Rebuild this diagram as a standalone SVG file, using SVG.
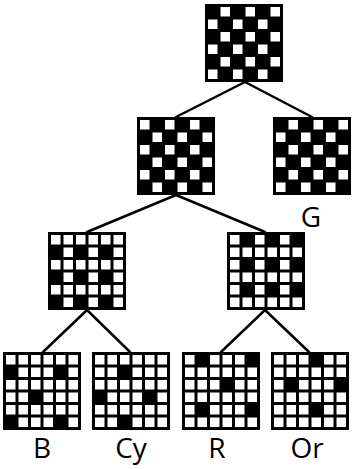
<svg xmlns="http://www.w3.org/2000/svg" xmlns:xlink="http://www.w3.org/1999/xlink" width="355" height="469" viewBox="0 0 355 469">
<style>
.bg{fill:#000}
.w{fill:#fff}
.lbl{font-family:"Open Sans","Noto Sans",sans-serif;font-size:28px;fill:#000;text-anchor:middle}
.conn line{stroke:#000;stroke-width:2.5;stroke-linecap:round}
</style>
<defs>
<g id="ra" class="w"><rect x="3" y="3" width="9.5" height="9.5"/><rect x="15.5" y="3" width="9.5" height="9.5"/><rect x="28" y="3" width="9.5" height="9.5"/><rect x="40.5" y="3" width="9.5" height="9.5"/><rect x="53" y="3" width="9.5" height="9.5"/><rect x="65.5" y="3" width="9.5" height="9.5"/></g>
<g id="ro" class="w"><rect x="15.5" y="3" width="9.5" height="9.5"/><rect x="40.5" y="3" width="9.5" height="9.5"/><rect x="65.5" y="3" width="9.5" height="9.5"/></g>
<g id="re" class="w"><rect x="3" y="3" width="9.5" height="9.5"/><rect x="28" y="3" width="9.5" height="9.5"/><rect x="53" y="3" width="9.5" height="9.5"/></g>
<g id="rb" class="w"><rect x="15.5" y="3" width="9.5" height="9.5"/><rect x="28" y="3" width="9.5" height="9.5"/><rect x="40.5" y="3" width="9.5" height="9.5"/><rect x="65.5" y="3" width="9.5" height="9.5"/></g>
<g id="rc" class="w"><rect x="3" y="3" width="9.5" height="9.5"/><rect x="15.5" y="3" width="9.5" height="9.5"/><rect x="40.5" y="3" width="9.5" height="9.5"/><rect x="53" y="3" width="9.5" height="9.5"/><rect x="65.5" y="3" width="9.5" height="9.5"/></g>
<g id="rr" class="w"><rect x="3" y="3" width="9.5" height="9.5"/><rect x="28" y="3" width="9.5" height="9.5"/><rect x="40.5" y="3" width="9.5" height="9.5"/><rect x="53" y="3" width="9.5" height="9.5"/></g>
<g id="rg" class="w"><rect x="3" y="3" width="9.5" height="9.5"/><rect x="15.5" y="3" width="9.5" height="9.5"/><rect x="28" y="3" width="9.5" height="9.5"/><rect x="53" y="3" width="9.5" height="9.5"/><rect x="65.5" y="3" width="9.5" height="9.5"/></g>
<rect id="box" class="bg" x="0" y="0" width="78" height="78"/>
</defs>
<g class="conn" id="connectors">
<line x1="245" y1="82" x2="176" y2="117"/>
<line x1="245" y1="82" x2="312" y2="117"/>
<line x1="176" y1="195" x2="87" y2="232"/>
<line x1="176" y1="195" x2="265" y2="232"/>
<line x1="87" y1="310" x2="43" y2="352"/>
<line x1="87" y1="310" x2="130" y2="352"/>
<line x1="265" y1="310" x2="221" y2="352"/>
<line x1="265" y1="310" x2="309" y2="352"/>
</g>
<g id="root" transform="translate(205,4)"><use href="#box"/><use href="#ro"/><use href="#re" y="12.5"/><use href="#ro" y="25"/><use href="#re" y="37.5"/><use href="#ro" y="50"/><use href="#re" y="62.5"/></g>
<g id="n2l" transform="translate(137,117)"><use href="#box"/><use href="#re"/><use href="#ro" y="12.5"/><use href="#re" y="25"/><use href="#ro" y="37.5"/><use href="#re" y="50"/><use href="#ro" y="62.5"/></g>
<g id="nG" transform="translate(273,117)"><use href="#box"/><use href="#ro"/><use href="#re" y="12.5"/><use href="#ro" y="25"/><use href="#re" y="37.5"/><use href="#ro" y="50"/><use href="#re" y="62.5"/></g>
<g id="n3l" transform="translate(48,232)"><use href="#box"/><use href="#ra"/><use href="#ro" y="12.5"/><use href="#ra" y="25"/><use href="#ro" y="37.5"/><use href="#ra" y="50"/><use href="#ro" y="62.5"/></g>
<g id="n3r" transform="translate(227,232)"><use href="#box"/><use href="#re"/><use href="#ra" y="12.5"/><use href="#re" y="25"/><use href="#ra" y="37.5"/><use href="#re" y="50"/><use href="#ra" y="62.5"/></g>
<g id="nB" transform="translate(3,352)"><use href="#box"/><use href="#ra"/><use href="#rb" y="12.5"/><use href="#ra" y="25"/><use href="#rc" y="37.5"/><use href="#ra" y="50"/><use href="#rb" y="62.5"/></g>
<g id="nCy" transform="translate(92,352)"><use href="#box"/><use href="#ra"/><use href="#rc" y="12.5"/><use href="#ra" y="25"/><use href="#rb" y="37.5"/><use href="#ra" y="50"/><use href="#rc" y="62.5"/></g>
<g id="nR" transform="translate(182,352)"><use href="#box"/><use href="#rr"/><use href="#ra" y="12.5"/><use href="#rg" y="25"/><use href="#ra" y="37.5"/><use href="#rr" y="50"/><use href="#ra" y="62.5"/></g>
<g id="nOr" transform="translate(271,352)"><use href="#box"/><use href="#rg"/><use href="#ra" y="12.5"/><use href="#rr" y="25"/><use href="#ra" y="37.5"/><use href="#rg" y="50"/><use href="#ra" y="62.5"/></g>
<g id="labels">
<text class="lbl" x="311" y="227">G</text>
<text class="lbl" x="42" y="458">B</text>
<text class="lbl" x="131" y="458">Cy</text>
<text class="lbl" x="217" y="458">R</text>
<text class="lbl" x="307" y="458">Or</text>
</g>
</svg>
